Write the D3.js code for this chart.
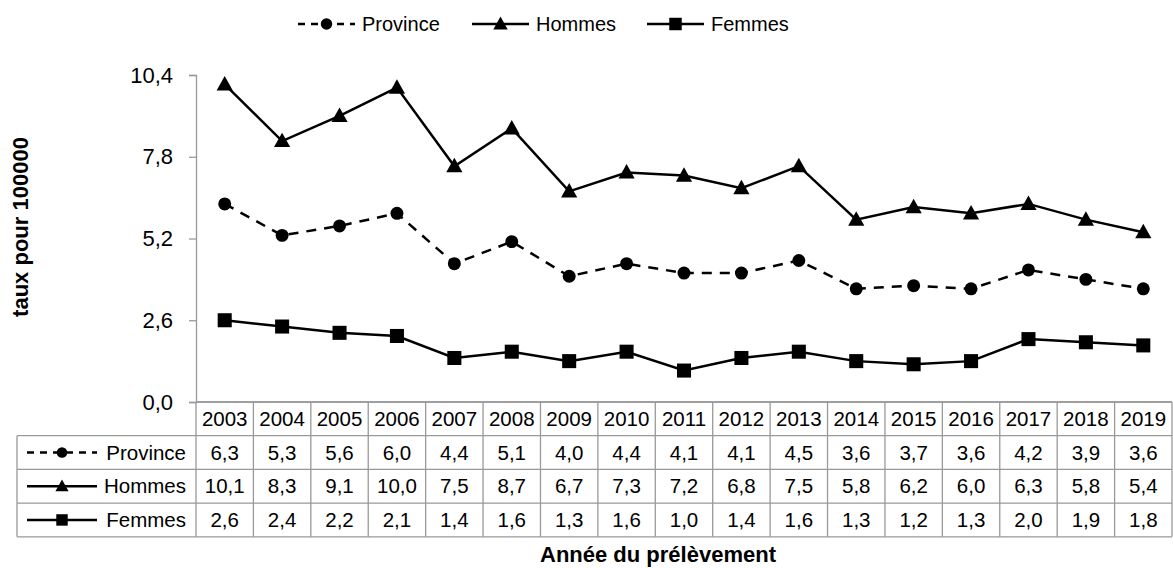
<!DOCTYPE html>
<html>
<head>
<meta charset="utf-8">
<script src="https://cdn.jsdelivr.net/npm/d3@7"></script>
<style>
  body { margin: 0; background: #fff; }
  text { font-family: "Liberation Sans", Arial, sans-serif; fill: #000; }
</style>
</head>
<body>
<div id="chart"></div>
<script>
var years = ["2003","2004","2005","2006","2007","2008","2009","2010","2011","2012","2013","2014","2015","2016","2017","2018","2019"];
var province = [6.3,5.3,5.6,6.0,4.4,5.1,4.0,4.4,4.1,4.1,4.5,3.6,3.7,3.6,4.2,3.9,3.6];
var hommes   = [10.1,8.3,9.1,10.0,7.5,8.7,6.7,7.3,7.2,6.8,7.5,5.8,6.2,6.0,6.3,5.8,5.4];
var femmes   = [2.6,2.4,2.2,2.1,1.4,1.6,1.3,1.6,1.0,1.4,1.6,1.3,1.2,1.3,2.0,1.9,1.8];
var yTicks = [0, 2.6, 5.2, 7.8, 10.4];

var series = [
  {name: "Province", values: province, dash: "10,8", keyDash: "7,6", marker: "circle"},
  {name: "Hommes", values: hommes, dash: null, keyDash: null, marker: "triangle"},
  {name: "Femmes", values: femmes, dash: null, keyDash: null, marker: "square"}
];

var W = 1173, H = 568;
var plotLeft = 196, plotRight = 1172, plotTop = 75, plotBottom = 402;
var rowH = 33.7, keyLeft = 17;
var grey = "#999";

var svg = d3.select("#chart").append("svg")
    .attr("width", W)
    .attr("height", H);

var x = d3.scaleBand().domain(years).range([plotLeft, plotRight]);
var y = d3.scaleLinear().domain([0, 10.4]).range([plotBottom, plotTop]);
var fmt = function(v) { return v.toFixed(1).replace(".", ","); };

// y axis
var yAxis = svg.append("g")
    .attr("transform", "translate(" + plotLeft + ",0)")
    .call(d3.axisLeft(y).tickValues(yTicks).tickFormat(fmt).tickSize(7).tickPadding(16));
yAxis.selectAll("path, line").attr("stroke", grey).attr("stroke-width", 1.3);
yAxis.selectAll("text").attr("font-size", "22px").attr("font-family", "Liberation Sans, Arial, sans-serif");

// x axis line
svg.append("line")
    .attr("x1", plotLeft).attr("x2", plotRight)
    .attr("y1", plotBottom).attr("y2", plotBottom)
    .attr("stroke", grey).attr("stroke-width", 1.3);

// markers
function drawMarker(g, type, cx, cy, s) {
  if (type === "circle") {
    g.append("circle").attr("cx", cx).attr("cy", cy).attr("r", s * 0.48).attr("fill", "#000");
  } else if (type === "triangle") {
    g.append("path")
      .attr("d", "M" + cx + "," + (cy - s * 0.62) + "L" + (cx + s * 0.6) + "," + (cy + s * 0.45) + "L" + (cx - s * 0.6) + "," + (cy + s * 0.45) + "Z")
      .attr("fill", "#000");
  } else {
    g.append("rect").attr("x", cx - s * 0.52).attr("y", cy - s * 0.52)
      .attr("width", s * 1.04).attr("height", s * 1.04).attr("fill", "#000");
  }
}

var line = d3.line()
    .x(function(d, i) { return x(years[i]) + x.bandwidth() / 2; })
    .y(function(d) { return y(d); });

series.forEach(function(s) {
  var g = svg.append("g");
  g.append("path")
    .datum(s.values)
    .attr("d", line)
    .attr("fill", "none")
    .attr("stroke", "#000")
    .attr("stroke-width", 2.5)
    .attr("stroke-dasharray", s.dash);
  s.values.forEach(function(v, i) {
    drawMarker(g, s.marker, x(years[i]) + x.bandwidth() / 2, y(v), 13.5);
  });
});

// legend on top
var legendPos = [298, 472, 647];
series.forEach(function(s, i) {
  var g = svg.append("g");
  var x0 = legendPos[i], ly = 24;
  g.append("line").attr("x1", x0).attr("x2", x0 + 57).attr("y1", ly).attr("y2", ly)
    .attr("stroke", "#000").attr("stroke-width", 2.5).attr("stroke-dasharray", s.keyDash);
  drawMarker(g, s.marker, x0 + 28.5, ly, 12);
  g.append("text").attr("x", x0 + 64).attr("y", ly + 7).attr("font-size", "20px").text(s.name);
});

// data table
var tbl = svg.append("g");
var rowsY = d3.range(5).map(function(i) { return plotBottom + i * rowH; });
rowsY.forEach(function(ry, i) {
  tbl.append("line")
    .attr("x1", i === 0 ? plotLeft : keyLeft).attr("x2", plotRight)
    .attr("y1", ry).attr("y2", ry)
    .attr("stroke", grey).attr("stroke-width", 1.3);
});
years.concat(["end"]).forEach(function(yr, i) {
  var cx = i < years.length ? x(yr) : plotRight;
  tbl.append("line")
    .attr("x1", cx).attr("x2", cx)
    .attr("y1", plotBottom).attr("y2", rowsY[4])
    .attr("stroke", grey).attr("stroke-width", 1.3);
});
tbl.append("line")
  .attr("x1", keyLeft).attr("x2", keyLeft)
  .attr("y1", rowsY[1]).attr("y2", rowsY[4])
  .attr("stroke", grey).attr("stroke-width", 1.3);

years.forEach(function(yr) {
  tbl.append("text")
    .attr("x", x(yr) + x.bandwidth() / 2)
    .attr("y", plotBottom + rowH / 2 + 7)
    .attr("text-anchor", "middle")
    .attr("font-size", "20.5px")
    .text(yr);
});

series.forEach(function(s, r) {
  var cy = rowsY[r + 1] + rowH / 2;
  var g = tbl.append("g");
  g.append("line").attr("x1", 27).attr("x2", 97).attr("y1", cy).attr("y2", cy)
    .attr("stroke", "#000").attr("stroke-width", 2.5).attr("stroke-dasharray", s.keyDash);
  drawMarker(g, s.marker, 62, cy, 11);
  g.append("text").attr("x", 186).attr("y", cy + 7).attr("text-anchor", "end")
    .attr("font-size", "20.5px").text(s.name);
  s.values.forEach(function(v, i) {
    g.append("text")
      .attr("x", x(years[i]) + x.bandwidth() / 2)
      .attr("y", cy + 7)
      .attr("text-anchor", "middle")
      .attr("font-size", "20.5px")
      .text(fmt(v));
  });
});

// axis titles
svg.append("text")
  .attr("x", 658).attr("y", 562)
  .attr("text-anchor", "middle")
  .attr("font-size", "22px").attr("font-weight", "bold")
  .text("Année du prélèvement");

svg.append("text")
  .attr("transform", "translate(28,227) rotate(-90)")
  .attr("text-anchor", "middle")
  .attr("font-size", "22px").attr("font-weight", "bold")
  .text("taux pour 100000");
</script>
</body>
</html>
